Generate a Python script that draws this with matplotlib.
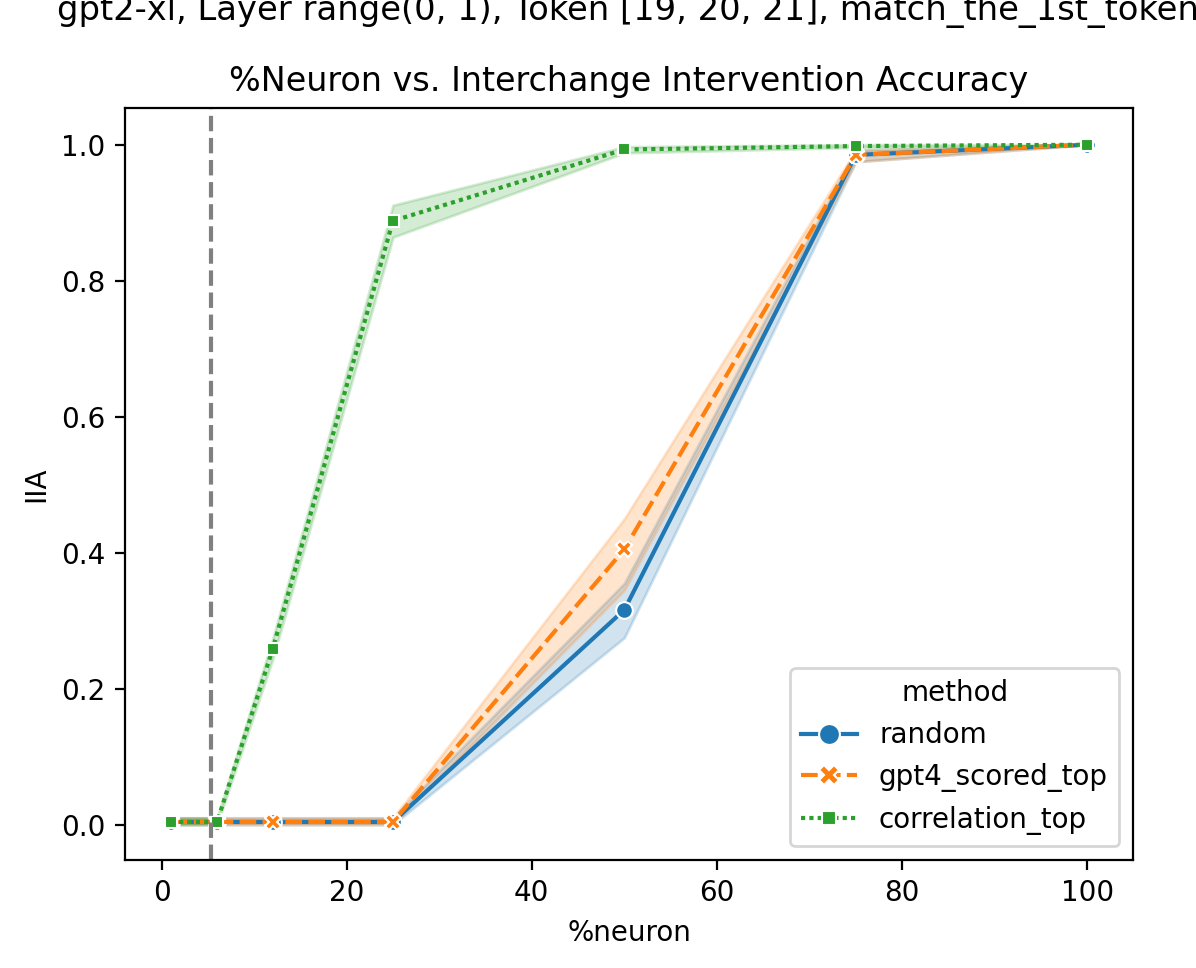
import matplotlib
matplotlib.use("Agg")
import matplotlib.pyplot as plt
from matplotlib.lines import Line2D
import numpy as np

x_pct = [1, 6, 12, 25, 50, 75, 100]
methods = ["random", "gpt4_scored_top", "correlation_top"]

iia_random = [0.004, 0.004, 0.004, 0.004, 0.316, 0.985, 1.0]
lo_random = [0.0, 0.0, 0.0, 0.0, 0.275, 0.975, 1.0]
hi_random = [0.010, 0.010, 0.010, 0.010, 0.355, 0.992, 1.0]

iia_gpt4 = [0.004, 0.004, 0.004, 0.004, 0.405, 0.985, 1.0]
lo_gpt4 = [0.0, 0.0, 0.0, 0.0, 0.345, 0.975, 1.0]
hi_gpt4 = [0.010, 0.010, 0.010, 0.010, 0.450, 0.992, 1.0]

iia_corr = [0.004, 0.004, 0.258, 0.888, 0.993, 0.998, 1.0]
lo_corr = [0.0, 0.0, 0.243, 0.864, 0.988, 0.996, 1.0]
hi_corr = [0.010, 0.010, 0.273, 0.911, 0.997, 1.0, 1.0]

vline_x = 5.3

colors = ["#1f77b4", "#ff7f0e", "#2ca02c"]
markers = ["o", "X", (4, 0, 45)]
dashes = [None, (4, 1.5), (1, 1)]

fig = plt.figure(figsize=(5.98, 4.84), dpi=200)
ax = fig.add_axes([125/1196, 1 - 860/968, (1133-125)/1196, (860-108)/968])

series = [(iia_random, lo_random, hi_random),
          (iia_gpt4, lo_gpt4, hi_gpt4),
          (iia_corr, lo_corr, hi_corr)]

handles = []
for (y, lo, hi), name, c, m, d in zip(series, methods, colors, markers, dashes):
    line, = ax.plot(x_pct, y, color=c, marker=m, markeredgecolor="w",
                    markeredgewidth=0.75, markersize=6, lw=1.5, label=name)
    h = Line2D([], [], color=c, marker=m, markeredgecolor="w",
               markeredgewidth=0.75, markersize=7.5, lw=1.5, label=name)
    if d is not None:
        line.set_dashes(d)
        h.set_dashes(d)
    handles.append(h)
    ax.fill_between(x_pct, lo, hi, color=c, alpha=0.2)

ax.axvline(vline_x, color="gray", linestyle="--", lw=1.5, zorder=2.5)

ax.set_xlim(-3.95, 104.95)
ax.set_ylim(-0.052, 1.054)
ax.set_xlabel("%neuron")
ax.set_ylabel("IIA")
ax.set_title("%Neuron vs. Interchange Intervention Accuracy")
ax.legend(handles=handles, title="method", loc="lower right")

fig.text(57/1196, 1 - 20/968,
         "gpt2-xl, Layer range(0, 1), Token [19, 20, 21], match_the_1st_token",
         ha="left", va="baseline", fontsize=12.15)

fig.savefig("out.png", dpi=200)
